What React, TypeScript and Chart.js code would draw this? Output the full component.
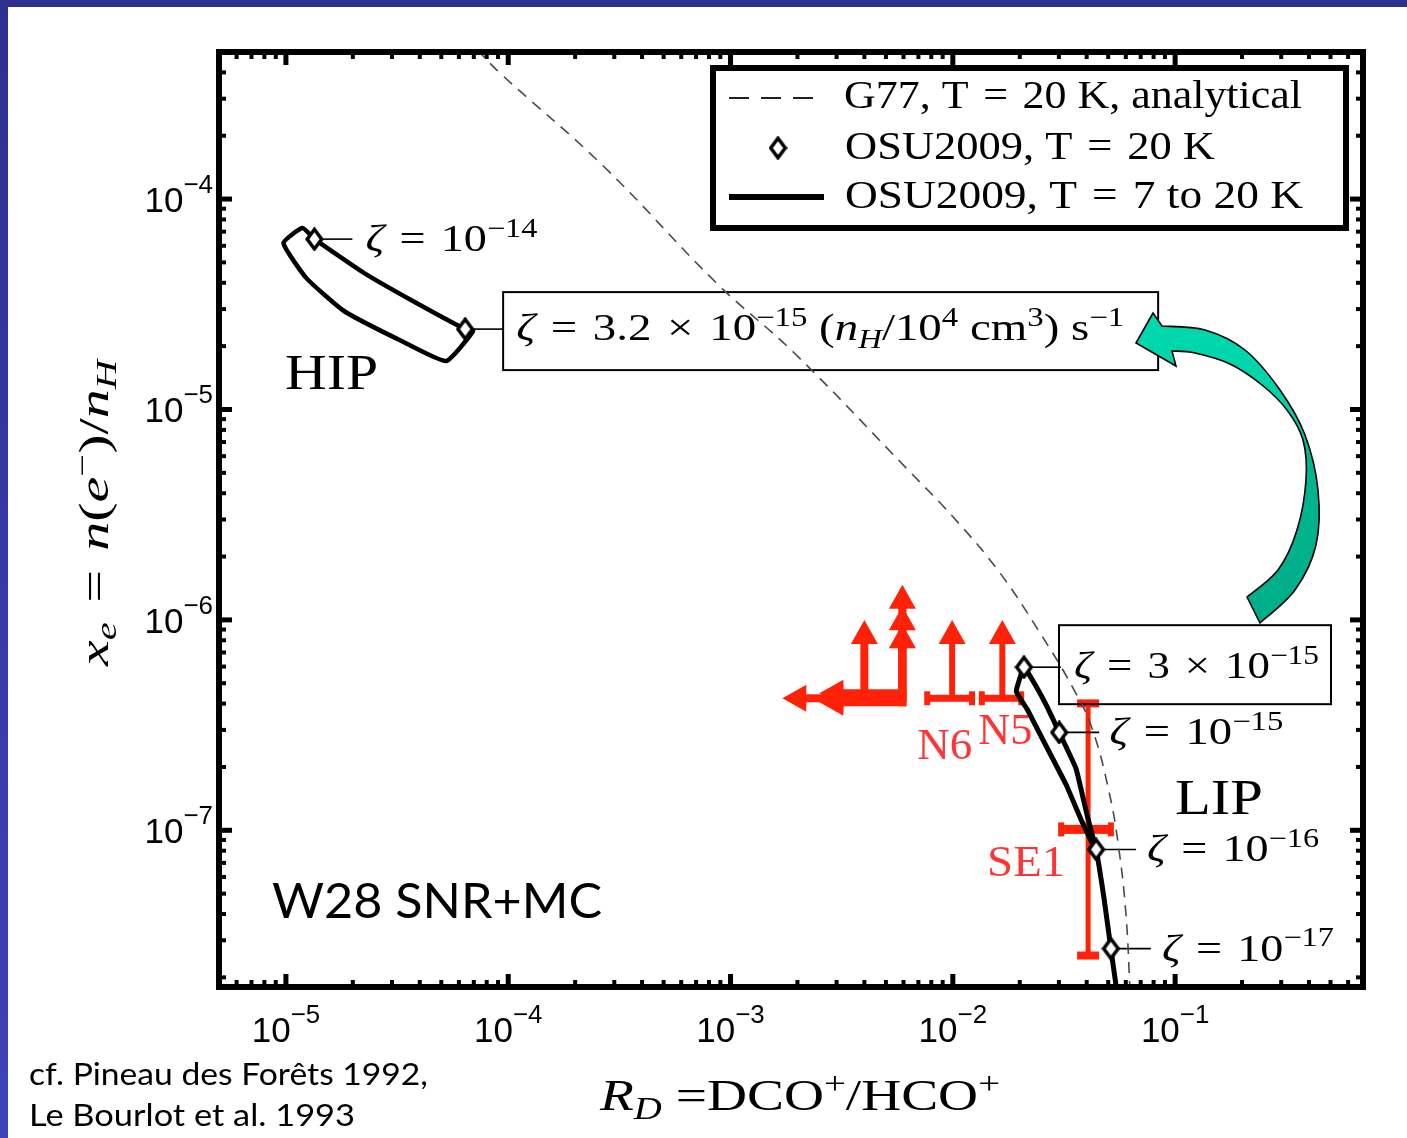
import React, { useEffect, useRef } from 'react';
import { Chart, registerables } from 'chart.js';
Chart.register(...registerables);

// ---------------- data ----------------
const xTickValues = [1e-5, 1e-4, 1e-3, 1e-2, 1e-1];
const xTickExponents = ['−5', '−4', '−3', '−2', '−1'];
const yTickValues = [1e-4, 1e-5, 1e-6, 1e-7];
const yTickExponents = ['−4', '−5', '−6', '−7'];

// G77 analytical curve (T = 20 K)
const g77X = [7.24e-5, 9.18e-5, 2.67e-4, 8.75e-4, 1.92e-3, 6.31e-3, 1.015e-2, 1.61e-2, 2.44e-2, 3.48e-2, 4.23e-2, 5.04e-2, 5.58e-2, 6.01e-2, 6.27e-2];
const g77Y = [5.13e-4, 3.97e-4, 1.44e-4, 3.94e-5, 1.87e-5, 5.14e-6, 3.04e-6, 1.70e-6, 8.83e-7, 4.73e-7, 3.05e-7, 1.53e-7, 8.20e-8, 3.98e-8, 1.71e-8];

// OSU2009, T = 7 to 20 K — high ionization phase (closed band)
const hipX = [1.343e-5, 1.186e-5, 9.75e-6, 1.236e-5, 1.832e-5, 3.33e-5, 5.26e-5, 6.95e-5, 6.40e-5, 3.74e-5, 2.25e-5, 1.343e-5];
const hipY = [6.45e-5, 7.28e-5, 6.18e-5, 4.21e-5, 2.93e-5, 2.11e-5, 1.70e-5, 2.36e-5, 2.41e-5, 3.27e-5, 4.45e-5, 6.45e-5];

// OSU2009, T = 7 to 20 K — low ionization phase
const lipX = [4.30e-2, 3.81e-2, 3.23e-2, 2.52e-2, 2.16e-2, 1.93e-2, 2.09e-2, 2.34e-2, 2.65e-2, 3.01e-2, 3.58e-2, 4.01e-2, 4.41e-2, 4.79e-2, 5.14e-2, 5.47e-2];
const lipY = [8.40e-8, 1.10e-7, 1.65e-7, 2.74e-7, 3.76e-7, 4.57e-7, 5.96e-7, 4.94e-7, 3.88e-7, 2.92e-7, 1.97e-7, 1.19e-7, 8.11e-8, 4.74e-8, 2.74e-8, 1.71e-8];

// OSU2009, T = 20 K points (diamonds), one per ζ
const zetaX = [1.343e-5, 6.40e-5, 2.09e-2, 3.01e-2, 4.41e-2, 5.14e-2];
const zetaY = [6.45e-5, 2.41e-5, 5.96e-7, 2.92e-7, 8.11e-8, 2.74e-8];

// observations with error bars / limits
const obsNames = ['N6', 'N5', 'SE1'];
const obsX = [9.93e-3, 1.67e-2, 4.06e-2];
const obsXLo = [7.67e-3, 1.35e-2, 3.07e-2];
const obsXHi = [1.22e-2, 2.03e-2, 5.14e-2];
const obsY = [4.24e-7, 4.24e-7, 1.01e-7];
const obsYLo: (number | null)[] = [null, null, 2.54e-8];
const obsYHi = [1.0e-6, 1.0e-6, 4.01e-7];

// upper limits on R_D with lower limits on x_e
const limX = [4.0e-3, 5.93e-3, 5.93e-3, 5.93e-3];
const limY = [4.24e-7, 4.06e-7, 4.24e-7, 4.48e-7];
const limXTo = [1.71e-3, 2.51e-3, 2.51e-3, 2.51e-3];
const limYTo = [1.0e-6, 9.53e-7, 1.16e-6, 1.47e-6];

const legendLabels = ['G77, T = 20 K, analytical', 'OSU2009, T = 20 K', 'OSU2009, T = 7 to 20 K'];

// ---------------- styles / layout ----------------
const SERIF = '"Liberation Serif", "Times New Roman", serif';
const SANS = '"Liberation Sans", Arial, sans-serif';
const HUMAN = 'Lato, "Open Sans", sans-serif';
const RED = '#ff2208';
const RED_TEXT = '#ff3535';
const MSP = '\u2004';

type Seg = { t: string; it?: boolean; sup?: boolean; sub?: boolean };
interface RichOpts {
  width?: number;
  align?: 'left' | 'right' | 'center';
  color?: string;
  supScale?: number;
  supRaise?: number;
  subDrop?: number;
}

function drawRich(ctx: CanvasRenderingContext2D, segs: Seg[], x: number, y: number, size: number, family: string, o: RichOpts = {}) {
  const supScale = o.supScale ?? 0.7;
  const supRaise = o.supRaise ?? 0.38;
  const subDrop = o.subDrop ?? 0.2;
  const parts = segs.map((s) => {
    const small = s.sup || s.sub;
    const fs = small ? size * supScale : size;
    const font = `${s.it ? 'italic ' : ''}${fs}px ${family}`;
    ctx.font = font;
    const w = ctx.measureText(s.t).width;
    const dy = s.sup ? -size * supRaise : s.sub ? size * subDrop : 0;
    return { t: s.t, font, w, dy };
  });
  const nat = parts.reduce((a, p) => a + p.w, 0);
  const sx = o.width ? o.width / nat : 1;
  const tot = nat * sx;
  const x0 = o.align === 'right' ? x - tot : o.align === 'center' ? x - tot / 2 : x;
  ctx.save();
  ctx.translate(x0, y);
  ctx.scale(sx, 1);
  ctx.fillStyle = o.color ?? '#000';
  ctx.textBaseline = 'alphabetic';
  ctx.textAlign = 'left';
  let cx = 0;
  for (const p of parts) {
    ctx.font = p.font;
    ctx.fillText(p.t, cx, p.dy);
    cx += p.w;
  }
  ctx.restore();
}

function mathify(s: string) {
  return s.replace(/ = /g, MSP + '=' + MSP).replace(/ × /g, MSP + '×' + MSP);
}

const zetaLabelSegs: Seg[][] = [
  [{ t: 'ζ', it: true }, { t: mathify(' = 10') }, { t: '−14', sup: true }],
  [
    { t: 'ζ', it: true }, { t: mathify(' = 3.2 × 10') }, { t: '−15', sup: true }, { t: ' (' },
    { t: 'n', it: true }, { t: 'H', it: true, sub: true }, { t: '/10' }, { t: '4', sup: true },
    { t: ' cm' }, { t: '3', sup: true }, { t: ') s' }, { t: '−1', sup: true },
  ],
  [{ t: 'ζ', it: true }, { t: mathify(' = 3 × 10') }, { t: '−15', sup: true }],
  [{ t: 'ζ', it: true }, { t: mathify(' = 10') }, { t: '−15', sup: true }],
  [{ t: 'ζ', it: true }, { t: mathify(' = 10') }, { t: '−16', sup: true }],
  [{ t: 'ζ', it: true }, { t: mathify(' = 10') }, { t: '−17', sup: true }],
];
// pixel offsets of each ζ label relative to its diamond
const zetaLabelLayout = [
  { lead: 38, tx: 51, ty: 12, w: 172, box: null as null | number[] },
  { lead: 38, tx: 51, ty: 11, w: 608, box: [38, -37, 693, 41] },
  { lead: 37, tx: 50, ty: 11, w: 245, box: [35, -42, 307, 37] },
  { lead: 40, tx: 50, ty: 12, w: 174, box: null },
  { lead: 40, tx: 51, ty: 12, w: 172, box: null },
  { lead: 40, tx: 51, ty: 12, w: 172, box: null },
];
const obsLabelLayout = [
  { dx: -35, dy: 61, w: 55, align: 'left' as const },
  { dx: -24, dy: 46, w: 54, align: 'left' as const },
  { dx: -23, dy: 47, w: 78, align: 'right' as const },
];

function makeDiamond(w: number, h: number, lw: number) {
  const c = document.createElement('canvas');
  c.width = w;
  c.height = h;
  const g = c.getContext('2d')!;
  const m = lw / 2 + 0.5;
  g.beginPath();
  g.moveTo(w / 2, m);
  g.lineTo(w - m, h / 2);
  g.lineTo(w / 2, h - m);
  g.lineTo(m, h / 2);
  g.closePath();
  g.fillStyle = '#fff';
  g.fill();
  g.lineWidth = lw;
  g.strokeStyle = '#000';
  g.lineJoin = 'miter';
  g.stroke();
  return c;
}

function arrow(ctx: CanvasRenderingContext2D, x1: number, y1: number, x2: number, y2: number, lw: number, headW: number, headL: number) {
  const ang = Math.atan2(y2 - y1, x2 - x1);
  const len = Math.hypot(x2 - x1, y2 - y1);
  ctx.save();
  ctx.translate(x1, y1);
  ctx.rotate(ang);
  ctx.fillRect(0, -lw / 2, len - headL + 1, lw);
  ctx.beginPath();
  ctx.moveTo(len, 0);
  ctx.lineTo(len - headL, -headW / 2);
  ctx.lineTo(len - headL, headW / 2);
  ctx.closePath();
  ctx.fill();
  ctx.restore();
}

function spline(ctx: CanvasRenderingContext2D, pts: number[][]) {
  ctx.lineTo(pts[0][0], pts[0][1]);
  for (let i = 0; i < pts.length - 1; i++) {
    const p0 = pts[i - 1] || pts[i];
    const p1 = pts[i];
    const p2 = pts[i + 1];
    const p3 = pts[i + 2] || p2;
    ctx.bezierCurveTo(
      p1[0] + (p2[0] - p0[0]) / 6, p1[1] + (p2[1] - p0[1]) / 6,
      p2[0] - (p3[0] - p1[0]) / 6, p2[1] - (p3[1] - p1[1]) / 6,
      p2[0], p2[1]
    );
  }
}

// reference layout -> current chart area
function P(ca: any, px: number, py: number): [number, number] {
  return [ca.left + ((px - 219) * (ca.right - ca.left)) / 1144, ca.top + ((py - 52) * (ca.bottom - ca.top)) / 935];
}

export default function App() {
  const ref = useRef<HTMLCanvasElement>(null);
  useEffect(() => {
    const canvas = ref.current!;
    const diamond = makeDiamond(19, 24, 3.5);

    const decor = {
      id: 'decor',
      beforeDraw(chart: any) {
        const ctx: CanvasRenderingContext2D = chart.ctx;
        const W = chart.width, H = chart.height;
        ctx.save();
        ctx.fillStyle = '#ffffff';
        ctx.fillRect(0, 0, W, H);
        const g = ctx.createLinearGradient(0, 0, 0, H);
        g.addColorStop(0, '#2c3190');
        g.addColorStop(1, '#3d43b9');
        ctx.fillStyle = g;
        ctx.fillRect(0, 0, 8, H);
        ctx.fillStyle = '#2d3290';
        ctx.fillRect(0, 0, W, 7);
        ctx.restore();
      },
      beforeDatasetsDraw(chart: any) {
        const ctx: CanvasRenderingContext2D = chart.ctx;
        const xs = chart.scales.x, ys = chart.scales.y;
        ctx.save();
        // ---- red observations ----
        ctx.fillStyle = RED;
        limX.forEach((v, i) => {
          const px = xs.getPixelForValue(v), py = ys.getPixelForValue(limY[i]);
          arrow(ctx, px + 4, py, xs.getPixelForValue(limXTo[i]), py, 8, 27, 24);
          arrow(ctx, px, py + 4, px, ys.getPixelForValue(limYTo[i]), 8, 27, 24);
        });
        obsX.forEach((v, i) => {
          const px = xs.getPixelForValue(v), py = ys.getPixelForValue(obsY[i]);
          const x1 = xs.getPixelForValue(obsXLo[i]), x2 = xs.getPixelForValue(obsXHi[i]);
          const lo = obsYLo[i];
          const hb = lo == null ? 7 : 9;
          ctx.fillRect(x1, py - hb / 2, x2 - x1, hb);
          ctx.fillRect(x1 - 3, py - 7, 6, 14);
          ctx.fillRect(x2 - 3, py - 7, 6, 14);
          if (lo == null) {
            arrow(ctx, px, py, px, ys.getPixelForValue(obsYHi[i]), 6, 27, 24);
          } else {
            const y1 = ys.getPixelForValue(obsYHi[i]), y2 = ys.getPixelForValue(lo);
            ctx.fillRect(px - 2.5, y1, 5, y2 - y1);
            ctx.fillRect(px - 11, y1 - 4, 22, 8);
            ctx.fillRect(px - 11, y2 - 4, 22, 8);
          }
          const L = obsLabelLayout[i];
          drawRich(ctx, [{ t: obsNames[i] }], px + L.dx, py + L.dy, 44, SERIF, { width: L.w, align: L.align, color: RED_TEXT });
        });
        // ---- ζ labels, leaders, boxes ----
        zetaX.forEach((v, i) => {
          const dx = xs.getPixelForValue(v), dy = ys.getPixelForValue(zetaY[i]);
          const L = zetaLabelLayout[i];
          ctx.strokeStyle = '#000';
          ctx.lineWidth = 1.6;
          ctx.beginPath();
          ctx.moveTo(dx + 8, dy);
          ctx.lineTo(dx + L.lead, dy);
          ctx.stroke();
          if (L.box) {
            ctx.lineWidth = 2;
            ctx.strokeRect(dx + L.box[0], dy + L.box[1], L.box[2] - L.box[0], L.box[3] - L.box[1]);
          }
          drawRich(ctx, zetaLabelSegs[i], dx + L.tx, dy + L.ty, 38, SERIF, { width: L.w });
        });
        // region names
        let p = P(chart.chartArea, 285, 389);
        drawRich(ctx, [{ t: 'HIP' }], p[0], p[1], 50, SERIF, { width: 93 });
        p = P(chart.chartArea, 1175, 814);
        drawRich(ctx, [{ t: 'LIP' }], p[0], p[1], 50, SERIF, { width: 88 });
        ctx.restore();
      },
      afterDatasetsDraw(chart: any) {
        const ctx: CanvasRenderingContext2D = chart.ctx;
        const ca = chart.chartArea;
        const xs = chart.scales.x, ys = chart.scales.y;
        ctx.save();
        // ---- legend ----
        const [lx1, ly1] = P(ca, 713, 68);
        const [lx2, ly2] = P(ca, 1346, 228);
        ctx.fillStyle = '#fff';
        ctx.fillRect(lx1, ly1, lx2 - lx1, ly2 - ly1);
        ctx.strokeStyle = '#000';
        ctx.lineWidth = 6;
        ctx.strokeRect(lx1, ly1, lx2 - lx1, ly2 - ly1);
        let a = P(ca, 729, 98), b = P(ca, 814, 98);
        ctx.lineWidth = 1.8;
        ctx.strokeStyle = '#222';
        ctx.setLineDash([20, 12]);
        ctx.beginPath();
        ctx.moveTo(a[0], a[1]);
        ctx.lineTo(b[0], b[1]);
        ctx.stroke();
        ctx.setLineDash([]);
        a = P(ca, 778, 148);
        ctx.drawImage(diamond, a[0] - diamond.width / 2, a[1] - diamond.height / 2);
        a = P(ca, 729, 197);
        b = P(ca, 824, 197);
        ctx.lineWidth = 6;
        ctx.strokeStyle = '#000';
        ctx.beginPath();
        ctx.moveTo(a[0], a[1]);
        ctx.lineTo(b[0], b[1]);
        ctx.stroke();
        const legPos = [[844, 108, 458], [845, 159, 370], [845, 208, 458]];
        legendLabels.forEach((t, i) => {
          const q = P(ca, legPos[i][0], legPos[i][1]);
          drawRich(ctx, [{ t: mathify(t) }], q[0], q[1], 39, SERIF, { width: legPos[i][2] });
        });

        // ---- frame and ticks ----
        ctx.fillStyle = '#000';
        for (let e = -7; e <= 0; e++) {
          for (let m = 1; m <= 9; m++) {
            const v = m * Math.pow(10, e);
            const major = m === 1;
            const L = major ? 13 : 7, w = major ? 5 : 4;
            if (v > xs.min && v < xs.max) {
              const px = xs.getPixelForValue(v);
              ctx.fillRect(px - w / 2, ca.top, w, L);
              ctx.fillRect(px - w / 2, ca.bottom - L, w, L);
            }
          }
        }
        for (let e = -9; e <= -3; e++) {
          for (let m = 1; m <= 9; m++) {
            const v = m * Math.pow(10, e);
            const major = m === 1;
            const L = major ? 13 : 7, w = major ? 5 : 4;
            if (v > ys.min && v < ys.max) {
              const py = ys.getPixelForValue(v);
              ctx.fillRect(ca.left, py - w / 2, L, w);
              ctx.fillRect(ca.right - L, py - w / 2, L, w);
            }
          }
        }
        ctx.lineWidth = 6;
        ctx.strokeStyle = '#000';
        ctx.lineJoin = 'miter';
        ctx.strokeRect(ca.left, ca.top, ca.right - ca.left, ca.bottom - ca.top);

        // ---- tick labels ----
        xTickValues.forEach((v, i) => {
          const px = xs.getPixelForValue(v);
          drawRich(ctx, [{ t: '10' }, { t: xTickExponents[i], sup: true }], px, ca.bottom + 55, 35, SANS, { align: 'center', supScale: 0.74, supRaise: 0.55 });
        });
        yTickValues.forEach((v, i) => {
          const py = ys.getPixelForValue(v);
          drawRich(ctx, [{ t: '10' }, { t: yTickExponents[i], sup: true }], ca.left - 6, py + 13, 35, SANS, { align: 'right', supScale: 0.74, supRaise: 0.55 });
        });

        // ---- axis titles ----
        let q = P(ca, 600, 1110);
        drawRich(ctx, [{ t: 'R', it: true }, { t: 'D', it: true, sub: true }, { t: ' =DCO' }, { t: '+', sup: true }, { t: '/HCO' }, { t: '+', sup: true }], q[0], q[1], 44, SERIF, { width: 400, supRaise: 0.36 });
        q = P(ca, 108, 666);
        ctx.save();
        ctx.translate(q[0], q[1]);
        ctx.rotate(-Math.PI / 2);
        drawRich(ctx, [
          { t: 'x', it: true }, { t: 'e', it: true, sub: true }, { t: MSP + '=' + MSP },
          { t: 'n', it: true }, { t: '(' }, { t: 'e', it: true }, { t: '−', sup: true }, { t: ')/' },
          { t: 'n', it: true }, { t: 'H', it: true, sub: true },
        ], 0, 0, 42, SERIF, { width: 306 });
        ctx.restore();

        // ---- curved arrow between the two ζ prescriptions ----
        const T = (x: number, y: number) => P(ca, x, y);
        ctx.beginPath();
        let s = T(1136, 343);
        ctx.moveTo(s[0], s[1]);
        s = T(1153, 313); ctx.lineTo(s[0], s[1]);
        spline(ctx, [[1162, 326], [1205, 330], [1245, 350], [1280, 390], [1305, 435], [1318, 490], [1316, 545], [1295, 590], [1260, 623]].map(([x, y]) => T(x, y)));
        spline(ctx, [[1247, 597], [1278, 570], [1297, 530], [1306, 480], [1303, 440], [1287, 410], [1262, 385], [1230, 364], [1195, 353], [1172, 351]].map(([x, y]) => T(x, y)));
        s = T(1176, 366); ctx.lineTo(s[0], s[1]);
        ctx.closePath();
        const g0 = T(0, 313), g1 = T(0, 623);
        const grad = ctx.createLinearGradient(0, g0[1], 0, g1[1]);
        grad.addColorStop(0, '#00d8ad');
        grad.addColorStop(0.38, '#00d2a8');
        grad.addColorStop(0.44, '#00b792');
        grad.addColorStop(1, '#00ad89');
        ctx.fillStyle = grad;
        ctx.fill();
        ctx.lineWidth = 1.6;
        ctx.strokeStyle = '#000';
        ctx.lineJoin = 'miter';
        ctx.stroke();

        // ---- slide texts ----
        q = P(ca, 272, 918);
        drawRich(ctx, [{ t: 'W28 SNR+MC' }], q[0], q[1], 48, HUMAN, { width: 330, color: '#000' });
        drawRich(ctx, [{ t: 'cf. Pineau des Forêts 1992,' }], 29, 1085, 30, HUMAN, { width: 399, color: '#000' });
        drawRich(ctx, [{ t: 'Le Bourlot et al. 1993' }], 29, 1126, 30, HUMAN, { width: 326, color: '#000' });
        ctx.restore();
      },
    };

    const chart = new Chart(canvas, {
      type: 'scatter',
      data: {
        datasets: [
          {
            label: legendLabels[1],
            data: zetaX.map((x, i) => ({ x, y: zetaY[i] })),
            showLine: false,
            pointStyle: diamond as any,
            pointRadius: 10,
            pointHoverRadius: 10,
          },
          {
            label: legendLabels[2] + ' (LIP)',
            data: lipX.map((x, i) => ({ x, y: lipY[i] })),
            showLine: true,
            borderColor: '#000',
            borderWidth: 5,
            pointRadius: 0,
            tension: 0.1,
            fill: false,
          },
          {
            label: legendLabels[2] + ' (HIP)',
            data: hipX.map((x, i) => ({ x, y: hipY[i] })),
            showLine: true,
            borderColor: '#000',
            borderWidth: 4.5,
            pointRadius: 0,
            tension: 0.15,
            fill: false,
          },
          {
            label: legendLabels[0],
            data: g77X.map((x, i) => ({ x, y: g77Y[i] })),
            showLine: true,
            borderColor: '#4a4a4a',
            borderWidth: 1.6,
            borderDash: [11, 8],
            pointRadius: 0,
            tension: 0.4,
            fill: false,
          },
        ],
      },
      options: {
        responsive: false,
        animation: false,
        devicePixelRatio: 1,
        events: [],
        layout: { padding: { left: 219, top: 52, right: 44, bottom: 151 } },
        scales: {
          x: { type: 'logarithmic', min: 5e-6, max: 0.7, display: false },
          y: { type: 'logarithmic', min: 1.8e-8, max: 5e-4, display: false },
        },
        plugins: { legend: { display: false }, tooltip: { enabled: false }, title: { display: false } },
      },
      plugins: [decor],
    });
    return () => chart.destroy();
  }, []);

  return (
    <div style={{ position: 'fixed', left: 0, top: 0, width: 1407, height: 1138, background: '#fff' }}>
      <canvas ref={ref} width={1407} height={1138} style={{ display: 'block' }} />
    </div>
  );
}
